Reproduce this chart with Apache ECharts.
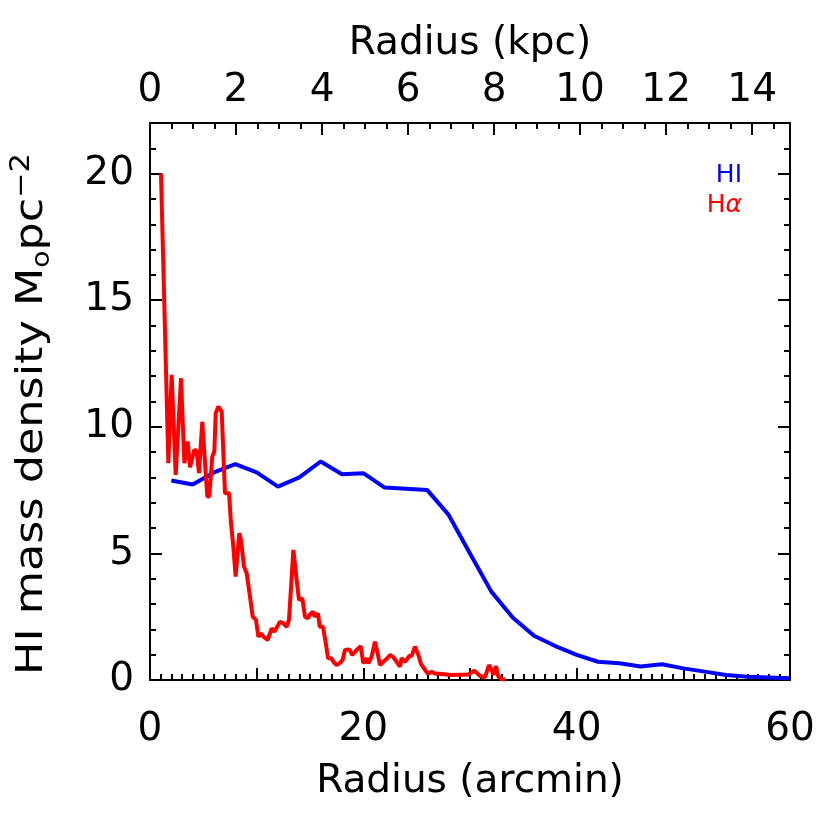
<!DOCTYPE html>
<html>
<head>
<meta charset="utf-8">
<script src="https://cdn.jsdelivr.net/npm/echarts@6/dist/echarts.min.js"></script>
<style>
  html, body { margin: 0; padding: 0; background: #fff; }
  #chart { width: 830px; height: 830px; }
</style>
</head>
<body>
<div id="chart"></div>
<script>
// HI profile (radius in arcmin, surface density)
var hiRadius = [2, 4, 6, 8, 10, 12, 14, 16, 18, 20, 22, 24, 26, 28, 30, 32, 34, 36, 38, 40,
  42, 44, 46, 48, 50, 52, 54, 56, 58, 60]
var hiDensity = [7.88, 7.72, 8.2, 8.53, 8.2, 7.64, 8.0, 8.63, 8.13, 8.17, 7.6, 7.55, 7.5, 6.52, 5.0,
  3.49, 2.47, 1.75, 1.34, 0.99, 0.72, 0.66, 0.53, 0.62, 0.46, 0.33, 0.2, 0.13, 0.1, 0.07]

// H-alpha profile
var haRadius = [1.03, 1.72, 2.03, 2.41, 2.91, 3.22, 3.53, 3.75, 4.16, 4.37, 4.59, 4.9, 5.06, 5.37,
  5.56, 5.84, 6.03, 6.16, 6.41, 6.72, 7.03, 7.41, 7.59, 7.81, 8.03, 8.19, 8.37, 8.53, 8.81, 9.06,
  9.31, 9.63, 9.94, 10.16, 10.41, 10.63, 11.03, 11.41, 11.66, 12.19, 12.5, 12.81, 13.03, 13.44,
  13.75, 13.97, 14.28, 14.53, 14.81, 14.97, 15.28, 15.44, 15.75, 15.91, 16.22, 16.53, 16.69, 17.0,
  17.19, 17.5, 17.81, 18.06, 18.28, 18.69, 18.97, 19.38, 19.75, 20.0, 20.31, 20.47, 20.78, 21.09,
  21.31, 21.56, 21.87, 22.25, 22.5, 22.81, 23.12, 23.44, 23.59, 23.91, 24.31, 24.53, 24.84, 25.16,
  25.38, 25.78, 26.09, 26.41, 26.72, 27.34, 28.28, 29.84, 30.41, 30.94, 31.41, 31.78, 32.03, 32.19,
  32.44, 32.66, 32.97, 33.3]
var haDensity = [20.0, 8.56, 12.05, 8.1, 11.92, 8.56, 9.42, 8.4, 9.09, 9.05, 8.17, 10.2, 9.22, 7.25,
  7.25, 8.83, 9.02, 10.54, 10.8, 10.6, 7.38, 7.38, 6.2, 5.27, 4.08, 4.08, 5.8, 5.53, 4.48, 4.22,
  3.49, 2.5, 2.37, 1.71, 1.84, 1.71, 1.58, 2.04, 1.91, 2.3, 2.24, 2.1, 2.37, 5.14,
  3.95, 3.16, 3.23, 2.5, 2.44, 2.57, 2.7, 2.5, 2.63, 2.1, 2.1, 1.32, 0.86, 0.86,
  0.72, 0.59, 0.68, 0.79, 1.19, 1.21, 0.99, 1.19, 1.34, 0.66, 0.86, 0.66, 0.92, 1.51,
  1.12, 0.59, 0.72, 0.86, 0.99, 0.9, 0.72, 0.53, 0.86, 0.72, 0.95, 0.95, 1.32, 0.99,
  0.66, 0.4, 0.24, 0.33, 0.26, 0.24, 0.2, 0.22, 0.37, 0.16, 0.11, 0.59, 0.4, 0.2,
  0.55, 0.13, 0.03, 0.03]

var kpcMax = 14.88 // 60 arcmin in kpc
var font = 'DejaVu Sans'
var fs = 39

function zip (xs, ys) {
  var out = []
  for (var i = 0; i < xs.length; i++) out.push([xs[i], ys[i]])
  return out
}

// one axis; major ones carry the line and labels, minor ones only short ticks
function axis (o) {
  var a = {
    gridIndex: o.grid, type: 'value', position: o.pos, min: o.min, max: o.max, interval: o.step,
    axisLine: { show: !!o.line, onZero: false, lineStyle: { color: '#000', width: 2 } },
    axisTick: { inside: true, length: o.tick, lineStyle: { color: '#000', width: 2 } },
    axisLabel: { show: false },
    splitLine: { show: false }
  }
  if (o.label) {
    a.axisLabel = { show: true, margin: o.margin, color: '#000', fontFamily: font, fontSize: fs,
      formatter: function (v) { return v % o.label === 0 ? String(v) : '' } }
  }
  if (o.name) {
    a.name = o.name
    a.nameLocation = 'middle'
    a.nameGap = o.nameGap
    a.nameTextStyle = { color: '#000', fontFamily: font, fontSize: fs }
  }
  return a
}

var myChart = echarts.init(document.getElementById('chart'))
myChart.setOption({
  animation: false,
  backgroundColor: '#fff',
  grid: [
    { left: 150, right: 40, top: 123, bottom: 150 },
    { left: 150, right: 40, top: 123, bottom: 150 }
  ],
  xAxis: [
    axis({ grid: 0, pos: 'bottom', min: 0, max: 60, step: 10, tick: 12, line: true, label: 20, margin: 30,
      name: 'Radius (arcmin)', nameGap: 82 }),
    axis({ grid: 0, pos: 'top', min: 0, max: kpcMax, step: 2, tick: 12, line: true, label: 2, margin: 13,
      name: 'Radius (kpc)', nameGap: 60 }),
    axis({ grid: 1, pos: 'bottom', min: 0, max: 60, step: 1, tick: 6 }),
    axis({ grid: 1, pos: 'top', min: 0, max: kpcMax, step: 0.5, tick: 6 })
  ],
  yAxis: [
    axis({ grid: 0, pos: 'left', min: 0, max: 22, step: 5, tick: 12, line: true, label: 5, margin: 16 }),
    axis({ grid: 0, pos: 'right', min: 0, max: 22, step: 5, tick: 12, line: true }),
    axis({ grid: 1, pos: 'left', min: 0, max: 22, step: 1, tick: 6 }),
    axis({ grid: 1, pos: 'right', min: 0, max: 22, step: 1, tick: 6 })
  ],
  graphic: [
    {
      type: 'text', x: 32, y: 414, rotation: Math.PI / 2, scaleX: 1.17,
      style: {
        text: 'HI mass density M{sub|o}pc{sup|−2}',
        fill: '#000', font: '38px ' + font,
        align: 'center', verticalAlign: 'middle',
        rich: {
          sub: { fontSize: 24, fontFamily: font, fill: '#000', verticalAlign: 'bottom', lineHeight: 46 },
          sup: { fontSize: 26, fontFamily: font, fill: '#000', verticalAlign: 'top', lineHeight: 46 }
        }
      }
    },
    {
      type: 'text', x: 742, y: 175,
      style: { text: 'HI', fill: '#0000ff', font: '25px ' + font, align: 'right', verticalAlign: 'middle' }
    },
    {
      type: 'text', x: 742, y: 205,
      style: {
        text: 'H{a|α}', fill: '#ff0000', font: '25px ' + font, align: 'right', verticalAlign: 'middle',
        rich: { a: { fontSize: 25, fontFamily: font, fontStyle: 'italic', fill: '#ff0000' } }
      }
    }
  ],
  series: [
    {
      name: 'HI', type: 'line', xAxisIndex: 0, yAxisIndex: 0,
      data: zip(hiRadius, hiDensity),
      showSymbol: false, symbol: 'none',
      lineStyle: { color: '#0000ff', width: 4 }
    },
    {
      name: 'Hα', type: 'line', xAxisIndex: 0, yAxisIndex: 0,
      data: zip(haRadius, haDensity),
      showSymbol: false, symbol: 'none',
      lineStyle: { color: '#ff0000', width: 4 }
    }
  ]
})
</script>
</body>
</html>
